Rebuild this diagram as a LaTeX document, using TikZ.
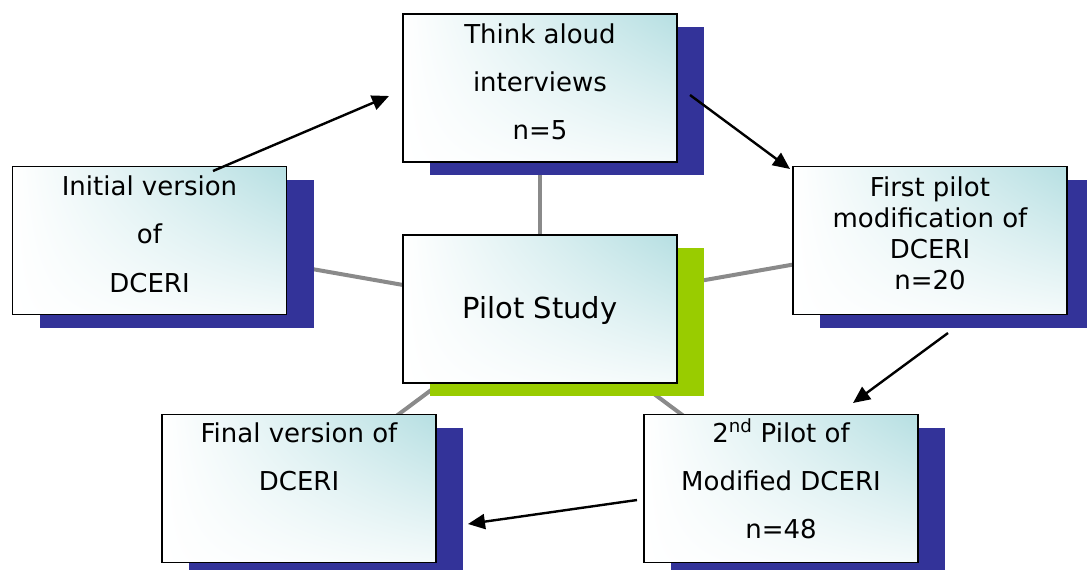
\documentclass[tikz,border=0pt]{standalone}
\usepackage{fontspec}
\setmainfont{DejaVu Sans}
\usetikzlibrary{arrows.meta,shadows,shadings,backgrounds}

\definecolor{shadowblue}{HTML}{333399}
\definecolor{shadowgreen}{HTML}{99CC00}
\definecolor{spokegray}{HTML}{8A8A8A}
\definecolor{tealtint}{HTML}{B6DFE2}

\tikzset{
  card/.style={rectangle, minimum width=274pt, minimum height=148pt,
    inner sep=0pt, draw=black, line width=1.7pt,
    upper left=white, upper right=tealtint,
    lower left=white, lower right=tealtint!15,
    drop shadow={shadow xshift=27pt, shadow yshift=-13pt,
      fill=#1, opacity=1}},
  card/.default=shadowblue,
  lbl/.style={anchor=base, inner sep=0pt, font=\fontsize{26}{30}\selectfont},
  biglbl/.style={anchor=base, inner sep=0pt, font=\fontsize{29}{34}\selectfont},
  spoke/.style={draw=spokegray, line width=4pt},
  flow/.style={draw=black, line width=2.4pt,
    -{Triangle[length=17pt,width=15pt]}},
}

\begin{document}
\begin{tikzpicture}[x=1pt, y=-1pt]
\useasboundingbox (0,0) rectangle (1087,570);

% boxes
\node[card] (think)   at (540,88)    {};
\node[card] (initial) at (149.5,240.5) {};
\node[card] (first)   at (930,240.5) {};
\node[card] (second)  at (781,488.5) {};
\node[card] (final)   at (299,488.5) {};
\node[card=shadowgreen] (pilot) at (540,309) {};

% grey spokes from the hub, behind everything
\begin{scope}[on background layer]
  \draw[spoke] (pilot.center) -- (think.center);
  \draw[spoke] (pilot.center) -- (initial.center);
  \draw[spoke] (pilot.center) -- (first.center);
  \draw[spoke] (pilot.center) -- (second.center);
  \draw[spoke] (pilot.center) -- (final.center);
\end{scope}

% labels
\node[lbl] (thinkA) at (540,43)  {Think aloud};
\node[lbl] (thinkB) at (540,91)  {interviews};
\node[lbl] (thinkC) at (540,139) {n=5};

\node[lbl] (initA) at (149.5,195) {Initial version};
\node[lbl] (initB) at (149.5,243) {of};
\node[lbl] (initC) at (149.5,292) {DCERI};

\node[lbl] (firstA) at (930,196) {First pilot};
\node[lbl] (firstB) at (930,227) {modification of};
\node[lbl] (firstC) at (930,258) {DCERI};
\node[lbl] (firstD) at (930,289) {n=20};

\node[lbl] (secA) at (781,442) {2\textsuperscript{nd} Pilot of};
\node[lbl] (secB) at (781,490) {Modified DCERI};
\node[lbl] (secC) at (781,538) {n=48};

\node[lbl] (finA) at (299,442) {Final version of};
\node[lbl] (finB) at (299,490) {DCERI};

\node[biglbl] (pilotA) at (540,318) {Pilot Study};

% arrow end points
\coordinate (a1s) at (213,171);
\coordinate (a1e) at (389,96);
\coordinate (a2s) at (690,95);
\coordinate (a2e) at (790,169);
\coordinate (a3s) at (948,333);
\coordinate (a3e) at (853,403);
\coordinate (a4s) at (637,500);
\coordinate (a4e) at (468,524);

\draw[flow] (a1s) -- (a1e);
\draw[flow] (a2s) -- (a2e);
\draw[flow] (a3s) -- (a3e);
\draw[flow] (a4s) -- (a4e);
\end{tikzpicture}
\end{document}
